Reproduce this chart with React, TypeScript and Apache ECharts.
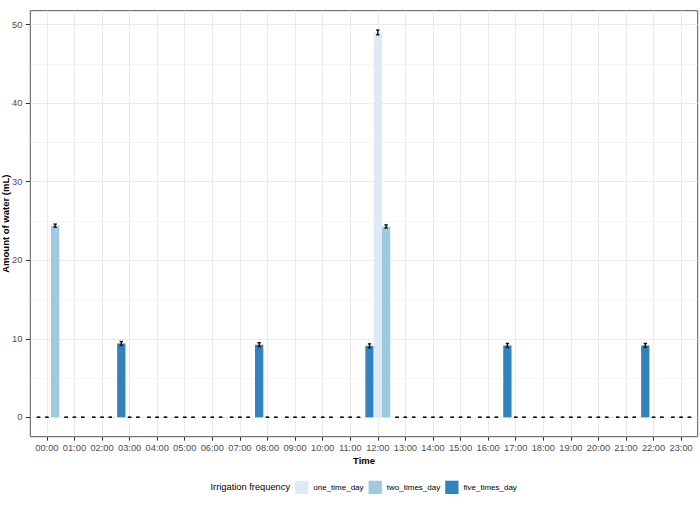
import React, { useEffect, useRef } from 'react'
import * as echarts from 'echarts'

/*==================================================================
    DATA
==================================================================*/
const hours = [
  '00:00', '01:00', '02:00', '03:00', '04:00', '05:00', '06:00', '07:00',
  '08:00', '09:00', '10:00', '11:00', '12:00', '13:00', '14:00', '15:00',
  '16:00', '17:00', '18:00', '19:00', '20:00', '21:00', '22:00', '23:00',
]

const oneTimeDay = [0, 0, 0, 0, 0, 0, 0, 0, 0, 0, 0, 0, 49.0, 0, 0, 0, 0, 0, 0, 0, 0, 0, 0, 0]
const oneTimeErr = [0, 0, 0, 0, 0, 0, 0, 0, 0, 0, 0, 0, 0.3, 0, 0, 0, 0, 0, 0, 0, 0, 0, 0, 0]

const twoTimesDay = [24.4, 0, 0, 0, 0, 0, 0, 0, 0, 0, 0, 0, 24.3, 0, 0, 0, 0, 0, 0, 0, 0, 0, 0, 0]
const twoTimesErr = [0.2, 0, 0, 0, 0, 0, 0, 0, 0, 0, 0, 0, 0.2, 0, 0, 0, 0, 0, 0, 0, 0, 0, 0, 0]

const fiveTimesDay = [0, 0, 0, 9.4, 0, 0, 0, 0, 9.25, 0, 0, 0, 9.1, 0, 0, 0, 0, 9.15, 0, 0, 0, 0, 9.15, 0]
const fiveTimesErr = [0, 0, 0, 0.25, 0, 0, 0, 0, 0.25, 0, 0, 0, 0.25, 0, 0, 0, 0, 0.25, 0, 0, 0, 0, 0.25, 0]

const yTicks = [0, 10, 20, 30, 40, 50]
const yMinorLines = [5, 15, 25, 35, 45]

/*==================================================================
    CONSTANTS
==================================================================*/
const FONT = '"Liberation Sans", Arial, sans-serif'
const BAR_W = 8.3
const COLORS = { one: '#deebf7', two: '#9ecae1', five: '#3182bd' }

/*==================================================================
    HELPERS
==================================================================*/
const barSeries = (name: string, vals: number[], color: string) => ({
  name,
  type: 'bar',
  data: vals.map((v, i) => [i, v]),
  barWidth: BAR_W,
  barGap: '0%',
  itemStyle: { color },
  emphasis: { disabled: true },
})

const errorSeries = (vals: number[], errs: number[], offset: number) => ({
  type: 'custom',
  silent: true,
  z: 5,
  data: vals.map((v, i) => [i, v - errs[i], v + errs[i]]),
  encode: { x: 0, y: [1, 2] },
  renderItem: (_params: unknown, api: any) => {
    const lo = api.coord([api.value(0), api.value(1)])
    const hi = api.coord([api.value(0), api.value(2)])
    const x = lo[0] + offset
    const hw = 1.7
    const style = { stroke: '#111', lineWidth: 1.4 }
    const children: any[] = [
      { type: 'line', shape: { x1: x - hw, y1: hi[1], x2: x + hw, y2: hi[1] }, style },
      { type: 'line', shape: { x1: x - hw, y1: lo[1], x2: x + hw, y2: lo[1] }, style },
    ]
    if (lo[1] - hi[1] > 0.5) {
      children.push({ type: 'line', shape: { x1: x, y1: hi[1], x2: x, y2: lo[1] }, style })
    }
    return { type: 'group', children }
  },
})

/*==================================================================
    APP
==================================================================*/
export default function App() {
  const ref = useRef<HTMLDivElement>(null)

  useEffect(() => {
    document.body.style.margin = '0'
    if (!ref.current) return
    const chart = echarts.init(ref.current, undefined, { renderer: 'svg' })

    const option: any = {
      animation: false,
      textStyle: { fontFamily: FONT },
      grid: {
        left: 30.3, right: 2.3, top: 10.7, bottom: 68.3,
        containLabel: false,
        outerBoundsMode: 'none',
        show: true, borderColor: '#555', borderWidth: 1, backgroundColor: '#fff',
      },
      xAxis: {
        type: 'value',
        min: -0.6,
        max: 23.6,
        name: 'Time',
        nameLocation: 'middle',
        nameGap: 19,
        nameMoveOverlap: false,
        nameTextStyle: { fontFamily: FONT, fontSize: 9.5, fontWeight: 'bold', color: '#000' },
        axisLine: { show: false, onZero: false },
        axisTick: { show: true, length: 4, lineStyle: { color: '#333' }, customValues: hours.map((_, i) => i) },
        axisLabel: {
          customValues: hours.map((_, i) => i),
          formatter: (v: number) => hours[v] ?? '',
          fontFamily: FONT, fontSize: 9.3, color: '#4d4d4d', margin: 7,
        },
        splitLine: { show: true, lineStyle: { color: '#ebebeb', width: 1 } },
      },
      yAxis: {
        type: 'value',
        min: -2.47,
        max: 51.77,
        name: 'Amount of water (mL)',
        nameLocation: 'middle',
        nameGap: 20,
        nameRotate: 90,
        nameMoveOverlap: false,
        nameTextStyle: { fontFamily: FONT, fontSize: 9.5, fontWeight: 'bold', color: '#000' },
        axisLine: { show: false, onZero: false },
        axisTick: { show: true, length: 4.5, lineStyle: { color: '#333' }, customValues: yTicks },
        axisLabel: { customValues: yTicks, fontFamily: FONT, fontSize: 9.3, color: '#4d4d4d', margin: 8 },
        splitLine: { show: true, lineStyle: { color: '#ebebeb', width: 1 } },
      },
      legend: {
        data: ['one_time_day', 'two_times_day', 'five_times_day'],
        left: 295,
        top: 480.7,
        padding: 0,
        itemWidth: 13.3,
        itemHeight: 13.3,
        itemGap: 5,
        icon: 'rect',
        selectedMode: false,
        textStyle: { fontFamily: FONT, fontSize: 8, color: '#000' },
      },
      graphic: [
        {
          type: 'text',
          left: 210.5,
          top: 482,
          style: { text: 'Irrigation frequency', fontFamily: FONT, fontSize: 9.3, fill: '#000' },
        },
      ],
      series: [
        {
          ...barSeries('five_times_day', fiveTimesDay, COLORS.five),
          markLine: {
            silent: true,
            symbol: 'none',
            label: { show: false },
            lineStyle: { color: '#ebebeb', width: 0.5, type: 'solid' },
            data: yMinorLines.map((y) => ({ yAxis: y })),
            z: 0,
          },
        },
        barSeries('one_time_day', oneTimeDay, COLORS.one),
        barSeries('two_times_day', twoTimesDay, COLORS.two),
        errorSeries(fiveTimesDay, fiveTimesErr, -BAR_W),
        errorSeries(oneTimeDay, oneTimeErr, 0),
        errorSeries(twoTimesDay, twoTimesErr, BAR_W),
      ],
    }

    chart.setOption(option)
    return () => chart.dispose()
  }, [])

  return <div ref={ref} style={{ width: 700, height: 505 }} />
}
